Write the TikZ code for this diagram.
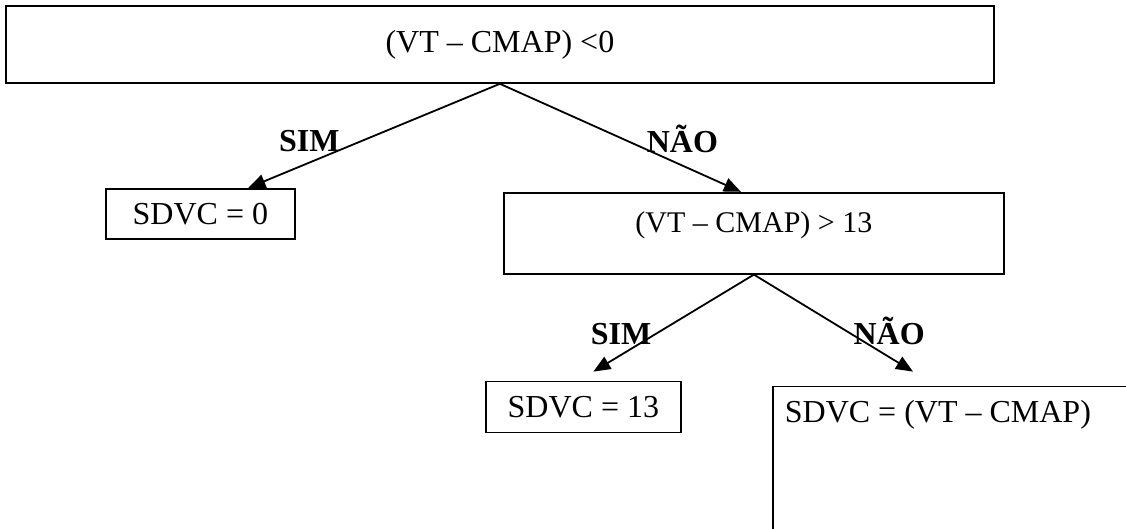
\documentclass[tikz,border=0pt]{standalone}
\usepackage{fontspec}
\setmainfont{Liberation Serif}
\usetikzlibrary{positioning}
\usetikzlibrary{arrows.meta}
\tikzset{
  caixa/.style={
    rectangle, draw=black, line width=1.8pt, fill=white,
    inner sep=0pt, align=center, font=\fontsize{32}{38}\selectfont
  },
  seta/.style={-{Triangle[length=17pt,width=14pt]}, line width=1.8pt, draw=black},
  rotulo/.style={font=\fontsize{32}{38}\selectfont\bfseries, inner sep=1pt}
}

\begin{document}
\begin{tikzpicture}[x=1pt,y=-1pt]
  \clip (0,0) rectangle (1126,528);
  \fill[white] (0,0) rectangle (1126,528);

  \node[caixa, minimum width=988pt, minimum height=77pt, anchor=north west] (cond1) at (5,5)
    {(VT -- CMAP) <0};
  \node[caixa, minimum width=189pt, minimum height=50pt,
        below right=104pt and 100pt of cond1.south west, anchor=north west] (res1)
    {SDVC = 0};
  \node[caixa, minimum width=500pt, minimum height=81pt, font=\fontsize{30}{36}\selectfont,
        text depth=22pt, below right=108pt and 498pt of cond1.south west, anchor=north west] (cond2)
    {(VT -- CMAP) > 13};
  \node[caixa, minimum width=195pt, minimum height=51pt,
        below left=106pt and 18pt of cond2.south west, anchor=north west] (res2)
    {SDVC = 13};
  \node[caixa, minimum width=400pt, minimum height=200pt, text depth=150pt,
        below right=111pt and 269pt of cond2.south west, anchor=north west] (res3)
    {SDVC = (VT -- CMAP)\hspace*{70pt}};

  \draw[seta] (cond1.south) -- ([xshift=48pt]res1.north)
        node[rotulo, pos=0.67, anchor=south east, xshift=10pt] {SIM};
  \draw[seta] (cond1.south) -- ([xshift=-13pt]cond2.north)
        node[rotulo, pos=0.66, anchor=south west, xshift=-14pt] {NÃO};
  \draw[seta] (cond2.south) -- ([xshift=10pt,yshift=9pt]res2.north)
        node[rotulo, pos=0.74, anchor=south east, xshift=18pt] {SIM};
  \draw[seta] (cond2.south) -- ([xshift=141pt,yshift=14pt]res3.north west)
        node[rotulo, pos=0.74, anchor=south west, xshift=-20pt] {NÃO};
\end{tikzpicture}
\end{document}
